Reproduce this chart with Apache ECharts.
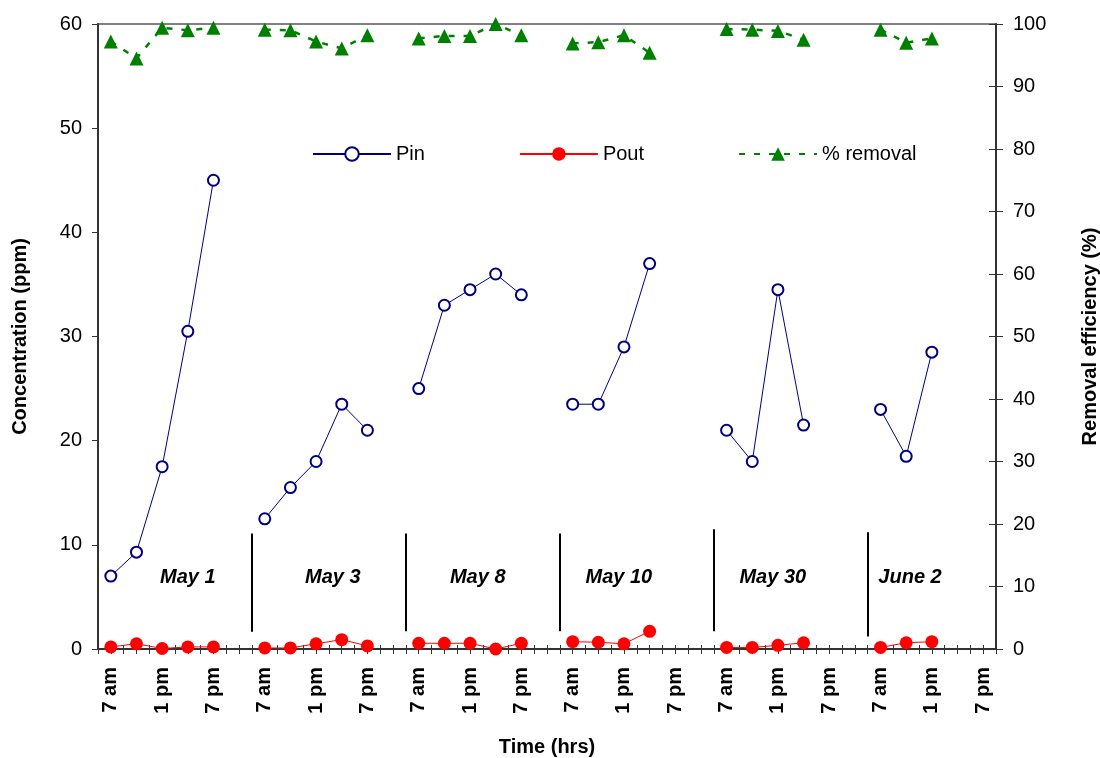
<!DOCTYPE html>
<html>
<head>
<meta charset="utf-8">
<script src="https://cdn.jsdelivr.net/npm/echarts@6/dist/echarts.min.js"></script>
<style>
  html, body { margin: 0; padding: 0; background: #fff; }
  #chart { width: 1100px; height: 758px; }
</style>
</head>
<body>
<div id="chart"></div>
<script>
// Sampling days; each day spans 12 slots of 1.5 h on the time axis
const days = ['May 1', 'May 3', 'May 8', 'May 10', 'May 30', 'June 2'];
// Readings are taken every 3 h starting at 7 am
const pinByDay = [
  [7.0, 9.3, 17.5, 30.5, 45.0],
  [12.5, 15.5, 18.0, 23.5, 21.0],
  [25.0, 33.0, 34.5, 36.0, 34.0],
  [23.5, 23.5, 29.0, 37.0],
  [21.0, 18.0, 34.5, 21.5],
  [23.0, 18.5, 28.5]
];
const poutByDay = [
  [0.2, 0.5, 0.05, 0.2, 0.2],
  [0.1, 0.1, 0.5, 0.9, 0.3],
  [0.55, 0.55, 0.55, 0.0, 0.55],
  [0.7, 0.65, 0.5, 1.7],
  [0.15, 0.15, 0.35, 0.6],
  [0.15, 0.6, 0.7]
];
const removalByDay = [
  [97.2, 94.5, 99.4, 99.0, 99.4],
  [99.1, 99.0, 97.2, 96.1, 98.2],
  [97.7, 98.1, 98.1, 100.0, 98.2],
  [96.9, 97.1, 98.2, 95.4],
  [99.2, 99.1, 98.9, 97.5],
  [99.1, 97.0, 97.7]
];
const tickLabels = ['7 am', '1 pm', '7 pm'];

// Day separators (slot position, top and bottom in ppm) and day caption positions
const dividerSlots = [12, 24, 36, 48, 60];
const dividerTop = [11.1, 11.1, 11.1, 11.5, 11.2];
const dividerBottom = [1.65, 1.7, 1.7, 1.7, 1.2];
const dayLabelSlots = [7.0, 18.3, 29.6, 40.6, 52.6, 63.3];
const dayLabelLevel = 6.9;

const SLOTS_PER_DAY = 12;
const FIRST_SLOT = 1;
const SLOTS_PER_READING = 2;
const TOTAL_SLOTS = 70;

const FONT = '"Liberation Sans", Arial, sans-serif';
const AXIS_COLOR = '#333';

function daySeries(values, d) {
  return values.map((v, k) => [FIRST_SLOT + SLOTS_PER_DAY * d + SLOTS_PER_READING * k, v]);
}

function tickText(v) {
  const i = v - FIRST_SLOT;
  if (i < 0 || i % 4 !== 0) return '';
  return tickLabels[(i / 4) % tickLabels.length];
}

const series = [];
days.forEach((day, d) => {
  series.push({
    name: 'Pin', type: 'line', xAxisIndex: 0, yAxisIndex: 0,
    data: daySeries(pinByDay[d], d),
    symbol: 'emptyCircle', symbolSize: 11,
    itemStyle: { color: '#000080', borderWidth: 2 },
    lineStyle: { color: '#000080', width: 1 },
    z: 3
  });
  series.push({
    name: 'Pout', type: 'line', xAxisIndex: 0, yAxisIndex: 0,
    data: daySeries(poutByDay[d], d),
    symbol: 'circle', symbolSize: 13,
    itemStyle: { color: '#ff0000' },
    lineStyle: { color: '#ff0000', width: 1 },
    clip: false,
    z: 3
  });
  series.push({
    name: '% removal', type: 'line', xAxisIndex: 0, yAxisIndex: 1,
    data: daySeries(removalByDay[d], d),
    symbol: 'triangle', symbolSize: 14,
    itemStyle: { color: '#008000' },
    lineStyle: { color: '#008000', width: 2.5, type: [6, 9] },
    clip: false,
    z: 3
  });
});

// Day captions and separators
series.push({
  type: 'scatter', xAxisIndex: 0, yAxisIndex: 0,
  data: dayLabelSlots.map(x => [x, dayLabelLevel]),
  symbolSize: 1,
  itemStyle: { color: 'rgba(255,255,255,0)', opacity: 1 },
  silent: true,
  label: {
    show: true, position: 'inside', opacity: 1,
    formatter: p => days[p.dataIndex],
    fontFamily: FONT, fontSize: 20, fontWeight: 'bold', fontStyle: 'italic',
    color: '#000', textBorderWidth: 0
  },
  markLine: {
    silent: true, symbol: 'none', animation: false,
    label: { show: false },
    lineStyle: { color: '#000', width: 2, type: 'solid', opacity: 1 },
    data: dividerSlots.map((x, i) => [
      { coord: [x, dividerTop[i]] },
      { coord: [x, dividerBottom[i]] }
    ])
  },
  z: 2
});

const gridRect = { left: 98, right: 104, top: 24, bottom: 109 };
const nameStyle = { fontFamily: FONT, fontSize: 20, fontWeight: 'bold', color: '#000' };

const chart = echarts.init(document.getElementById('chart'), null, { renderer: 'canvas' });
chart.setOption({
  animation: false,
  backgroundColor: '#fff',
  textStyle: { fontFamily: FONT },
  grid: [
    Object.assign({
      show: true, borderColor: '#808080', borderWidth: 2, backgroundColor: 'transparent',
      containLabel: false, outerBoundsMode: 'none'
    }, gridRect),
    // overlay grid carrying the inner half of the crossing tick marks
    Object.assign({ show: false, containLabel: false, outerBoundsMode: 'none' }, gridRect)
  ],
  legend: {
    data: ['Pin', 'Pout', '% removal'],
    left: 307, top: 139,
    itemWidth: 78, itemHeight: 17, itemGap: 94,
    textStyle: { fontFamily: FONT, fontSize: 20, color: '#000' },
    selectedMode: false
  },
  xAxis: [
    {
      gridIndex: 0, type: 'value', min: 0, max: TOTAL_SLOTS, interval: 1,
      name: 'Time (hrs)', nameLocation: 'middle', nameGap: 88, nameMoveOverlap: false,
      nameTextStyle: nameStyle,
      axisLine: { show: true, onZero: false, lineStyle: { color: AXIS_COLOR, width: 2 } },
      axisTick: { show: true, inside: false, length: 5, lineStyle: { color: AXIS_COLOR, width: 1 } },
      axisLabel: {
        show: true, rotate: 90, margin: 18, formatter: tickText,
        fontFamily: FONT, fontSize: 20, fontWeight: 'bold', color: '#000',
        showMinLabel: true, showMaxLabel: true
      },
      splitLine: { show: false }
    },
    {
      gridIndex: 1, type: 'value', min: 0, max: TOTAL_SLOTS, interval: 1, position: 'bottom',
      axisLine: { show: false, onZero: false },
      axisTick: { show: true, inside: true, length: 4, lineStyle: { color: AXIS_COLOR, width: 1 } },
      axisLabel: { show: false },
      splitLine: { show: false }
    }
  ],
  yAxis: [
    {
      gridIndex: 0, type: 'value', min: 0, max: 60, interval: 10, position: 'left',
      name: 'Concentration (ppm)', nameLocation: 'middle', nameGap: 68, nameRotate: 90,
      nameMoveOverlap: false, nameTextStyle: nameStyle,
      axisLine: { show: true, onZero: false, lineStyle: { color: AXIS_COLOR, width: 2 } },
      axisTick: { show: true, length: 6, lineStyle: { color: AXIS_COLOR, width: 1 } },
      axisLabel: { margin: 16, fontFamily: FONT, fontSize: 20, color: '#000' },
      splitLine: { show: false }
    },
    {
      gridIndex: 0, type: 'value', min: 0, max: 100, interval: 10, position: 'right',
      name: 'Removal efficiency (%)', nameLocation: 'middle', nameGap: 84, nameRotate: 90,
      nameMoveOverlap: false, nameTextStyle: nameStyle,
      axisLine: { show: true, onZero: false, lineStyle: { color: AXIS_COLOR, width: 2 } },
      axisTick: { show: true, length: 7, lineStyle: { color: AXIS_COLOR, width: 1 } },
      axisLabel: { margin: 17, fontFamily: FONT, fontSize: 20, color: '#000' },
      splitLine: { show: false }
    },
    {
      gridIndex: 1, type: 'value', min: 0, max: 100, interval: 10, position: 'right',
      axisLine: { show: false, onZero: false },
      axisTick: { show: true, inside: true, length: 7, lineStyle: { color: AXIS_COLOR, width: 1 } },
      axisLabel: { show: false },
      splitLine: { show: false }
    }
  ],
  series: series
});
</script>
</body>
</html>
